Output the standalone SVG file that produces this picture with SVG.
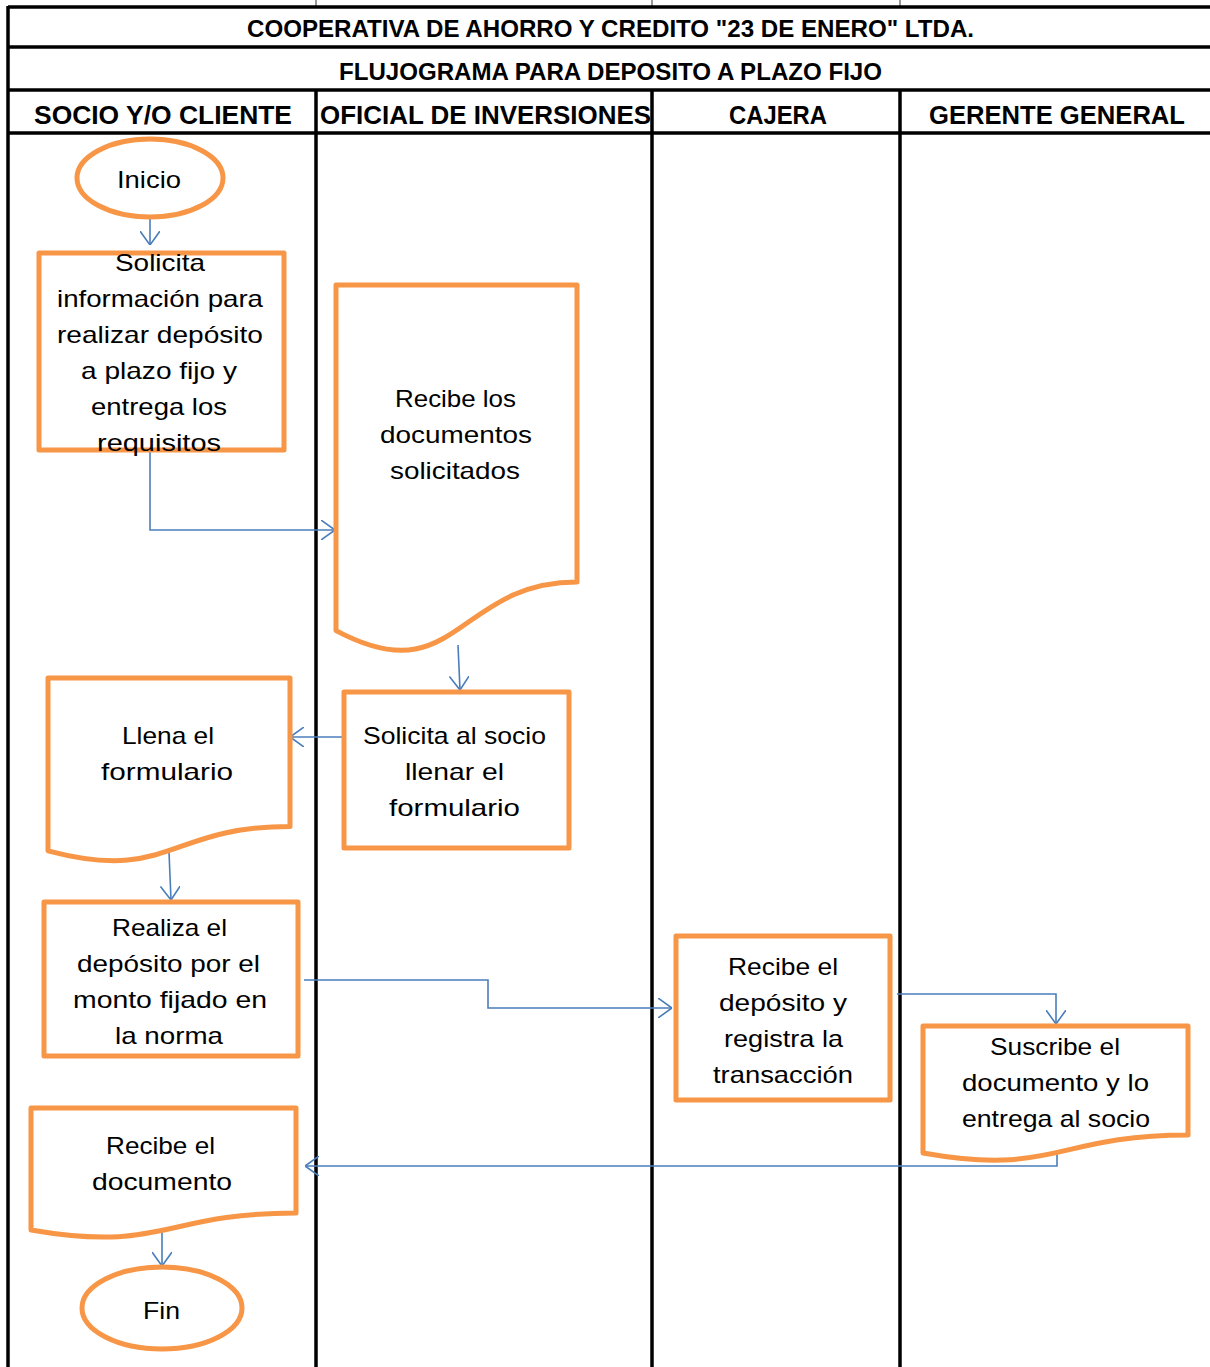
<svg xmlns="http://www.w3.org/2000/svg" width="1210" height="1367" viewBox="0 0 1210 1367">
  <style>
    .grid { stroke: #000; stroke-width: 3.5; fill: none; }
    .tick { stroke: #999; stroke-width: 2; }
    .hdr { font-family: "Liberation Sans", Arial, sans-serif; font-weight: bold; font-size: 24px; fill: #000; }
    .lane { font-family: "Liberation Sans", Arial, sans-serif; font-weight: bold; font-size: 26px; fill: #000; }
    .shape { fill: #fff; stroke: #F79646; stroke-width: 5; stroke-linejoin: round; }
    .lbl { font-family: "Liberation Sans", Arial, sans-serif; font-size: 24px; fill: #000; text-anchor: start; }
    .conn { fill: none; stroke: #4A7EBB; stroke-width: 1.6; }
  </style>
  <defs>
    <marker id="arrow" viewBox="0 0 14 20" refX="14" refY="10" markerWidth="14" markerHeight="20" markerUnits="userSpaceOnUse" orient="auto">
      <path d="M0,0 L14,10 L0,20" fill="none" stroke="#4A7EBB" stroke-width="1.6"/>
    </marker>
  </defs>

  <rect width="1210" height="1367" fill="#fff"/>

  <!-- table grid -->
  <g id="table">
    <line class="tick" x1="316" y1="0" x2="316" y2="6"/>
    <line class="tick" x1="652" y1="0" x2="652" y2="6"/>
    <line class="tick" x1="900" y1="0" x2="900" y2="6"/>
    <line class="grid" x1="8" y1="7" x2="1210" y2="7" stroke-width="3"/>
    <line class="grid" x1="8" y1="6" x2="8" y2="1367" stroke-width="3"/>
    <line class="grid" x1="8" y1="47" x2="1210" y2="47"/>
    <line class="grid" x1="8" y1="90" x2="1210" y2="90"/>
    <line class="grid" x1="8" y1="133" x2="1210" y2="133"/>
    <line class="grid" x1="316" y1="90" x2="316" y2="1367"/>
    <line class="grid" x1="652" y1="90" x2="652" y2="1367"/>
    <line class="grid" x1="900" y1="90" x2="900" y2="1367"/>

    <text class="hdr" x="247" y="37" textLength="727" lengthAdjust="spacingAndGlyphs">COOPERATIVA DE AHORRO Y CREDITO "23 DE ENERO" LTDA.</text>
    <text class="hdr" x="339" y="80" textLength="543" lengthAdjust="spacingAndGlyphs">FLUJOGRAMA PARA DEPOSITO A PLAZO FIJO</text>
    <text class="lane" x="34" y="124" textLength="258" lengthAdjust="spacingAndGlyphs">SOCIO Y/O CLIENTE</text>
    <text class="lane" x="320" y="124" textLength="331" lengthAdjust="spacingAndGlyphs">OFICIAL DE INVERSIONES</text>
    <text class="lane" x="729" y="124" textLength="98" lengthAdjust="spacingAndGlyphs">CAJERA</text>
    <text class="lane" x="929" y="124" textLength="256" lengthAdjust="spacingAndGlyphs">GERENTE GENERAL</text>
  </g>

  <!-- connectors -->
  <g id="connectors">
    <path class="conn" d="M150,218 L150,245" marker-end="url(#arrow)"/>
    <path class="conn" d="M150,450 L150,530 L335,530" marker-end="url(#arrow)"/>
    <path class="conn" d="M458,645 L460,690" marker-end="url(#arrow)"/>
    <path class="conn" d="M344,737 L290,737" marker-end="url(#arrow)"/>
    <path class="conn" d="M169,852 L171,900" marker-end="url(#arrow)"/>
    <path class="conn" d="M304,980 L488,980 L488,1008 L672,1008" marker-end="url(#arrow)"/>
    <path class="conn" d="M897,994 L1056,994 L1056,1024" marker-end="url(#arrow)"/>
    <path class="conn" d="M1057,1146 L1057,1166 L305,1166" marker-end="url(#arrow)"/>
    <path class="conn" d="M162,1232 L162,1266" marker-end="url(#arrow)"/>
  </g>

  <!-- start -->
  <g id="inicio">
    <ellipse class="shape" cx="150" cy="178" rx="73" ry="39"/>
    <text class="lbl" x="117" y="188" textLength="64" lengthAdjust="spacingAndGlyphs">Inicio</text>
  </g>

  <g id="solicita-informacion">
    <rect class="shape" x="39" y="253" width="245" height="197"/>
    <text class="lbl" x="115" y="271" textLength="90" lengthAdjust="spacingAndGlyphs">Solicita</text>
    <text class="lbl" x="57" y="307" textLength="206" lengthAdjust="spacingAndGlyphs">información para</text>
    <text class="lbl" x="57" y="343" textLength="206" lengthAdjust="spacingAndGlyphs">realizar depósito</text>
    <text class="lbl" x="81" y="379" textLength="156" lengthAdjust="spacingAndGlyphs">a plazo fijo  y</text>
    <text class="lbl" x="91" y="415" textLength="136" lengthAdjust="spacingAndGlyphs">entrega los</text>
    <text class="lbl" x="97" y="451" textLength="124" lengthAdjust="spacingAndGlyphs">requisitos</text>
  </g>

  <g id="recibe-documentos">
    <path class="shape" d="M336,285 L577,285 L577,582 C456.5,582 456.5,694.8 336,630.6 Z"/>
    <text class="lbl" x="395" y="407" textLength="121" lengthAdjust="spacingAndGlyphs">Recibe los</text>
    <text class="lbl" x="380" y="443" textLength="152" lengthAdjust="spacingAndGlyphs">documentos</text>
    <text class="lbl" x="390" y="479" textLength="130" lengthAdjust="spacingAndGlyphs">solicitados</text>
  </g>

  <g id="solicita-llenar">
    <rect class="shape" x="344" y="692" width="225" height="156"/>
    <text class="lbl" x="363" y="744" textLength="183" lengthAdjust="spacingAndGlyphs">Solicita al socio</text>
    <text class="lbl" x="405" y="780" textLength="99" lengthAdjust="spacingAndGlyphs">llenar el</text>
    <text class="lbl" x="389" y="816" textLength="131" lengthAdjust="spacingAndGlyphs">formulario</text>
  </g>

  <g id="llena-formulario">
    <path class="shape" d="M48,678 L290,678 L290,826.4 C169,826.4 169,882.9 48,850.8 Z"/>
    <text class="lbl" x="122" y="744" textLength="92" lengthAdjust="spacingAndGlyphs">Llena el</text>
    <text class="lbl" x="101" y="780" textLength="132" lengthAdjust="spacingAndGlyphs">formulario</text>
  </g>

  <g id="realiza-deposito">
    <rect class="shape" x="44" y="902" width="254" height="154"/>
    <text class="lbl" x="112" y="936" textLength="115" lengthAdjust="spacingAndGlyphs">Realiza el</text>
    <text class="lbl" x="77" y="972" textLength="183" lengthAdjust="spacingAndGlyphs">depósito por el</text>
    <text class="lbl" x="73" y="1008" textLength="194" lengthAdjust="spacingAndGlyphs">monto fijado en</text>
    <text class="lbl" x="115" y="1044" textLength="108" lengthAdjust="spacingAndGlyphs">la norma</text>
  </g>

  <g id="recibe-deposito">
    <rect class="shape" x="676" y="936" width="214" height="164"/>
    <text class="lbl" x="728" y="975" textLength="110" lengthAdjust="spacingAndGlyphs">Recibe el</text>
    <text class="lbl" x="719" y="1011" textLength="128" lengthAdjust="spacingAndGlyphs">depósito y</text>
    <text class="lbl" x="724" y="1047" textLength="119" lengthAdjust="spacingAndGlyphs">registra la</text>
    <text class="lbl" x="713" y="1083" textLength="140" lengthAdjust="spacingAndGlyphs">transacción</text>
  </g>

  <g id="suscribe-documento">
    <path class="shape" d="M923,1026 L1188,1026 L1188,1135 C1055.5,1135 1055.5,1176.6 923,1153 Z"/>
    <text class="lbl" x="990" y="1055" textLength="130" lengthAdjust="spacingAndGlyphs">Suscribe el</text>
    <text class="lbl" x="962" y="1091" textLength="187" lengthAdjust="spacingAndGlyphs">documento y lo</text>
    <text class="lbl" x="962" y="1127" textLength="188" lengthAdjust="spacingAndGlyphs">entrega al socio</text>
  </g>

  <g id="recibe-documento">
    <path class="shape" d="M31,1108 L296,1108 L296,1213 C163.5,1213 163.5,1253 31,1230 Z"/>
    <text class="lbl" x="106" y="1154" textLength="109" lengthAdjust="spacingAndGlyphs">Recibe el</text>
    <text class="lbl" x="92" y="1190" textLength="140" lengthAdjust="spacingAndGlyphs">documento</text>
  </g>

  <!-- end -->
  <g id="fin">
    <ellipse class="shape" cx="162" cy="1308" rx="80" ry="41"/>
    <text class="lbl" x="143" y="1319" textLength="37" lengthAdjust="spacingAndGlyphs">Fin</text>
  </g>
</svg>
